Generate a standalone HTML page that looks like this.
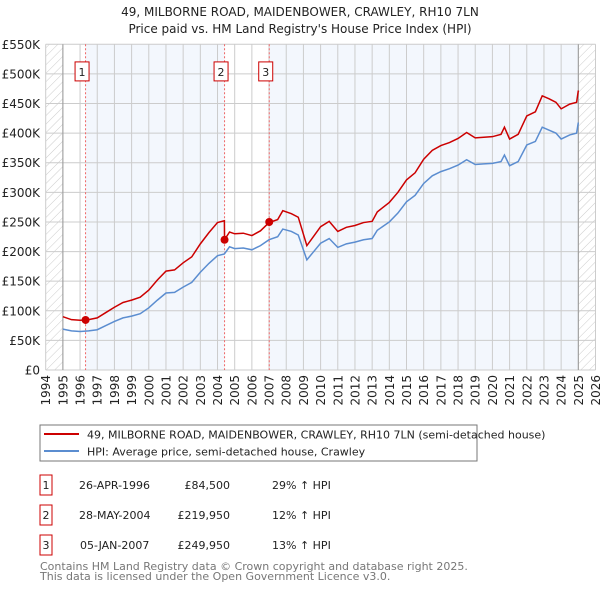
<!DOCTYPE html>
<html><head><meta charset="utf-8"><style>
body{margin:0;background:#fff;width:600px;height:590px;overflow:hidden;font-family:"DejaVu Sans","Liberation Sans",sans-serif;}
svg text{font-family:"DejaVu Sans","Liberation Sans",sans-serif;}
</style></head><body>
<svg id="c" width="600" height="590" xmlns="http://www.w3.org/2000/svg">
<defs><pattern id="hatch" width="6" height="6" patternUnits="userSpaceOnUse" patternTransform="rotate(45)"><line x1="0" y1="0" x2="0" y2="6" stroke="#ccc" stroke-width="1"/></pattern></defs>
<text x="300" y="16" text-anchor="middle" font-size="12" fill="#222">49, MILBORNE ROAD, MAIDENBOWER, CRAWLEY, RH10 7LN</text>
<text x="300" y="33" text-anchor="middle" font-size="12" fill="#222">Price paid vs. HM Land Registry's House Price Index (HPI)</text>
<g id="plot"></g>
<rect x="40" y="425" width="437" height="36" fill="#fff" stroke="#777"/>
<line x1="44" y1="434" x2="79" y2="434" stroke="#cc0000" stroke-width="2"/>
<text x="87" y="438.5" font-size="11" fill="#222">49, MILBORNE ROAD, MAIDENBOWER, CRAWLEY, RH10 7LN (semi-detached house)</text>
<line x1="44" y1="451" x2="79" y2="451" stroke="#5b8dd0" stroke-width="2"/>
<text x="87" y="455.5" font-size="11" fill="#222">HPI: Average price, semi-detached house, Crawley</text>
<g font-size="11" fill="#222">
<rect x="40" y="475" width="12" height="20" fill="none" stroke="#cc0000"/><text x="46" y="489" text-anchor="middle">1</text>
<text x="79" y="489">26-APR-1996</text><text x="230" y="489" text-anchor="end">£84,500</text><text x="272" y="489">29% ↑ HPI</text>
<rect x="40" y="505" width="12" height="20" fill="none" stroke="#cc0000"/><text x="46" y="519" text-anchor="middle">2</text>
<text x="79" y="519">28-MAY-2004</text><text x="230" y="519" text-anchor="end">£219,950</text><text x="272" y="519">12% ↑ HPI</text>
<rect x="40" y="535" width="12" height="20" fill="none" stroke="#cc0000"/><text x="46" y="549" text-anchor="middle">3</text>
<text x="80" y="549">05-JAN-2007</text><text x="230" y="549" text-anchor="end">£249,950</text><text x="272" y="549">13% ↑ HPI</text>
</g>
<text x="40" y="570" font-size="11" fill="#777">Contains HM Land Registry data © Crown copyright and database right 2025.</text>
<text x="40" y="580" font-size="11" fill="#777">This data is licensed under the Open Government Licence v3.0.</text>
</svg>
<script>
const hpiYears=[1995.0,1995.5,1996.0,1996.5,1997.0,1997.5,1998.0,1998.5,1999.0,1999.5,2000.0,2000.5,2001.0,2001.5,2002.0,2002.5,2003.0,2003.5,2004.0,2004.4,2004.7,2005.0,2005.5,2006.0,2006.5,2007.0,2007.5,2007.8,2008.3,2008.7,2009.2,2009.6,2010.0,2010.5,2011.0,2011.5,2012.0,2012.5,2013.0,2013.3,2014.0,2014.5,2015.0,2015.5,2016.0,2016.5,2017.0,2017.5,2018.0,2018.5,2019.0,2019.5,2020.0,2020.5,2020.7,2021.0,2021.5,2022.0,2022.5,2022.9,2023.3,2023.7,2024.0,2024.5,2024.9,2025.0];
const hpiValues=[69,66,65,66,68,75,82,88,91,95,105,118,130,131,140,148,165,180,193,196,208,205,206,203,210,220,225,238,234,228,186,200,214,222,207,213,216,220,222,236,250,265,284,295,315,328,335,340,346,355,347,348,349,352,363,345,352,380,386,410,405,400,390,397,400,418];
const propYears=[1995.0,1995.5,1996.0,1996.32,1996.5,1997.0,1997.5,1998.0,1998.5,1999.0,1999.5,2000.0,2000.5,2001.0,2001.5,2002.0,2002.5,2003.0,2003.5,2004.0,2004.4,2004.41,2004.7,2005.0,2005.5,2006.0,2006.5,2007.0,2007.5,2007.8,2008.3,2008.7,2009.2,2009.6,2010.0,2010.5,2011.0,2011.5,2012.0,2012.5,2013.0,2013.3,2014.0,2014.5,2015.0,2015.5,2016.0,2016.5,2017.0,2017.5,2018.0,2018.5,2019.0,2019.5,2020.0,2020.5,2020.7,2021.0,2021.5,2022.0,2022.5,2022.9,2023.3,2023.7,2024.0,2024.5,2024.9,2025.0];
const propValues=[90,85,84,84.5,85,88,97,106,114,118,123,135,152,167,169,181,191,213,232,249,252,220,233,230,231,227,235,249,254,269,264,258,210,226,242,251,234,241,244,249,251,267,283,300,321,333,356,371,379,384,391,401,392,393,394,398,410,390,398,429,436,463,458,452,441,449,452,472];
const saleYears=[1996.32,2004.41,2007.01];
const salePrices=[84.5,219.95,249.95];
const saleLabels=["1","2","3"];
const yTicks=[0,50,100,150,200,250,300,350,400,450,500,550];
const yTickLabels=["£0","£50K","£100K","£150K","£200K","£250K","£300K","£350K","£400K","£450K","£500K","£550K"];
const xTicks=[1994,1995,1996,1997,1998,1999,2000,2001,2002,2003,2004,2005,2006,2007,2008,2009,2010,2011,2012,2013,2014,2015,2016,2017,2018,2019,2020,2021,2022,2023,2024,2025,2026];

const NS="http://www.w3.org/2000/svg";
const X0=45.7,X1=595.5,Y0=370,Y1=44.3;
const xs=y=>X0+(y-1994)*(X1-X0)/32;
const ys=v=>Y0-v*(Y0-Y1)/550;
const g=document.getElementById('plot');
function mk(t,a){const e=document.createElementNS(NS,t);for(const k in a)e.setAttribute(k,a[k]);g.appendChild(e);return e;}
let e;
e=mk('rect',{x:X0,y:Y1,width:X1-X0,height:Y0-Y1,fill:'#fff'});


e=mk('rect',{x:xs(saleYears[0]),y:Y1,width:xs(saleYears[1])-xs(saleYears[0]),height:Y0-Y1,fill:'#eef3fc',opacity:0.7});


e=mk('rect',{x:xs(saleYears[2]),y:Y1,width:xs(2025)-xs(saleYears[2]),height:Y0-Y1,fill:'#eef3fc',opacity:0.7});


e=mk('rect',{x:X0,y:Y1,width:xs(1995)-X0,height:Y0-Y1,fill:'url(#hatch)'});


e=mk('rect',{x:xs(2025),y:Y1,width:X1-xs(2025),height:Y0-Y1,fill:'url(#hatch)'});


yTicks.forEach((v,i)=>{
 e=mk('line',{x1:X0,x2:X1,y1:ys(v),y2:ys(v),stroke:'#ccc','stroke-width':1});
 
 
 e=mk('text',{x:40,y:ys(v)+4.5,'text-anchor':'end','font-size':12,fill:'#222'});e.textContent=yTickLabels[i];
 
 
});
xTicks.forEach(y=>{
 e=mk('line',{x1:xs(y),x2:xs(y),y1:Y1,y2:Y0,stroke:'#ccc','stroke-width':1});
 
 
 e=mk('text',{x:0,y:0,'text-anchor':'end','font-size':12,fill:'#222',transform:`translate(${xs(y)+4.5},375) rotate(-90)`});e.textContent=y;
 
 
});
e=mk('line',{x1:xs(1995),x2:xs(1995),y1:Y1,y2:Y0,stroke:'#999','stroke-width':1});


e=mk('line',{x1:xs(2025),x2:xs(2025),y1:Y1,y2:Y0,stroke:'#999','stroke-width':1});


saleYears.forEach((y,i)=>{
 e=mk('line',{x1:xs(y),x2:xs(y),y1:Y1,y2:Y0,stroke:'#e66','stroke-width':1,'stroke-dasharray':'2,2'});
 
 
 e=mk('rect',{x:xs(y)-10.5,y:ys(500)-12,width:14,height:19,fill:'#fff',stroke:'#cc0000'});
 
 
 e=mk('text',{x:xs(y)-3.5,y:ys(500)+2,'text-anchor':'middle','font-size':11,fill:'#222'});e.textContent=saleLabels[i];
 
 
});
e=mk('polyline',{points:hpiYears.map((y,i)=>xs(y)+','+ys(hpiValues[i])).join(' '),fill:'none',stroke:'#5b8dd0','stroke-width':1.5});


e=mk('polyline',{points:propYears.map((y,i)=>xs(y)+','+ys(propValues[i])).join(' '),fill:'none',stroke:'#cc0000','stroke-width':1.5});


saleYears.forEach((y,i)=>{
 e=mk('circle',{cx:xs(y),cy:ys(salePrices[i]),r:4,fill:'#cc0000'});
 
 
});
</script>
</body></html>
